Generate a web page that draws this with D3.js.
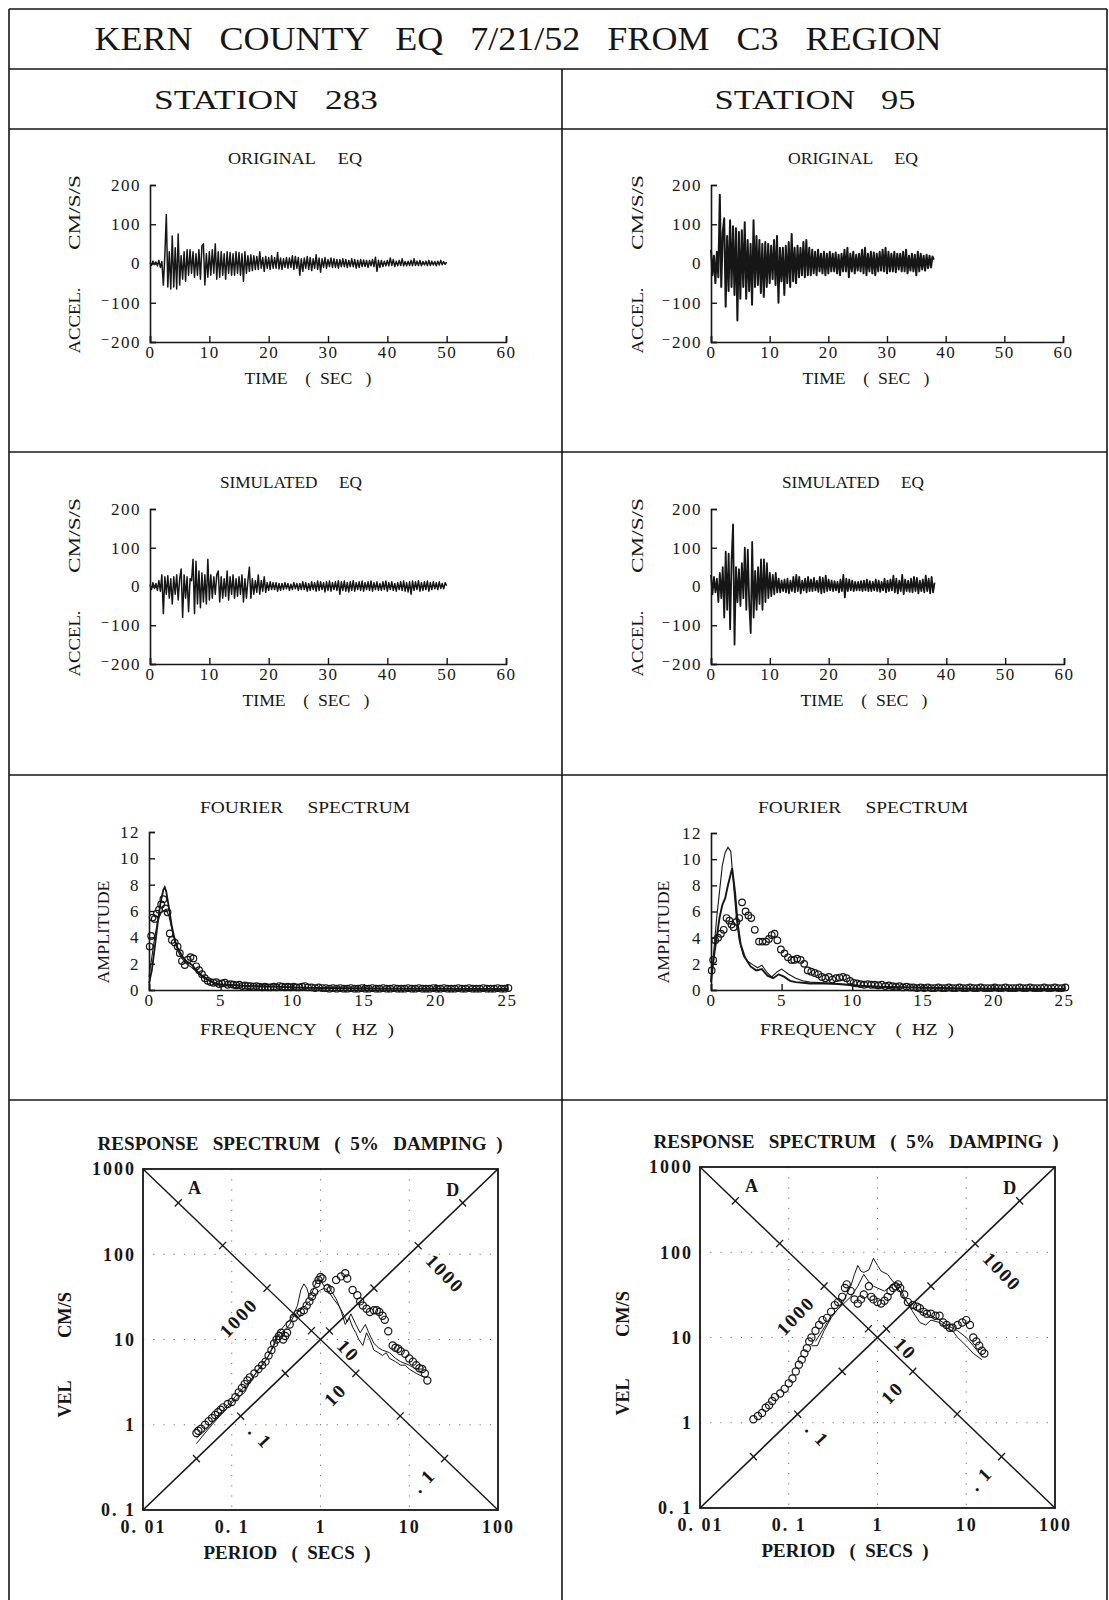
<!DOCTYPE html>
<html><head><meta charset="utf-8">
<script src="https://cdn.jsdelivr.net/npm/d3@7"></script>
<style>
body{margin:0;background:#fff}
svg text{font-family:"Liberation Serif","DejaVu Serif",serif;fill:#161616;white-space:pre}
</style>
</head><body>
<svg id="c" width="1109" height="1600"></svg>
<script>
// ---------------- DATA ----------------
const mainTitle = "KERN   COUNTY   EQ   7/21/52   FROM   C3   REGION";
const stationNames = ["STATION   283", "STATION   95"];
const timeTicks = [0,10,20,30,40,50,60];
const accelTicks = [-200,-100,0,100,200];
const freqTicks = [0,5,10,15,20,25];
const ampTicks = [0,2,4,6,8,10,12];
const periodTicks = [0.01,0.1,1,10,100];
const periodTickLabels = ["0. 01","0. 1","1","10","100"];
const velTicks = [0.1,1,10,100,1000];
const velTickLabels = ["0. 1","1","10","100","1000"];
const dt = 0.25; // sample step of the digitised records (s)

// Station 283 original accelerogram (cm/s/s), every 0.25 s from 0 to 50 s
const st283Orig = [2,-5,6,-3, 4,-6,8,-10, 5,-55,20,125, -60,30,-65,70, -60,40,-65,75,
 -55,20,-40,30, -45,35,-30,35, -25,30,-35,25, -30,35,-40,45, 50,-55,25,-35,
 30,-30,35,-25, 50,-40,30,-35, 30,-30,25,-40, 30,-25,28,-30, 25,-30,30,-25,
 28,-30,25,-45, 30,-25,20,-20, 22,-18,20,-15, 18,-15,30,-12, 15,-20,18,-12,
 15,-15,20,-12, 15,-12,28,-14, 14,-15,12,-10, 15,-12,14,-10, 20,-15,18,-12,
 15,-30,12,-20, 14,-12,18,-15, 15,-18,12,-12, 22,-15,14,-22, 12,-10,15,-12,
 10,-8,14,-10, 12,-10,10,-12, 10,-8,12,-8, 10,-10,8,-8, 12,-8,10,-12,
 8,-10,10,-8, 9,-8,8,-10, 8,-6,10,-8, 16,-20,8,-10, 8,-8,6,-6,
 8,-6,14,-5, 10,-8,6,-6, 8,-5,12,-6, 5,-6,6,-5, 8,-6,12,-5,
 6,-5,8,-6, 5,-4,6,-5, 8,-5,6,-4, 5,-6,6,-4, 8,-3,5,-2, 3];
// Station 283 simulated accelerogram
const st283Sim = [5,-8,10,-5, 8,-10,15,-12, 30,-70,25,-20, 28,-30,20,-45, 25,-20,30,-35,
 20,45,-80,30, -30,25,-65,20, 15,70,-70,65, -45,40,-55,35, -40,30,-45,70,
 -35,30,-30,25, -20,30,40,-40, 25,-30,20,-25, 40,-35,25,-20, 30,-30,20,-25,
 25,-20,30,-40, 20,-30,15,50, -30,20,-20,15, -15,30,-20,15, -12,25,-15,10,
 -10,12,-8,10, -8,10,-12,8, -10,8,-8,10, -6,8,-10,6, -8,10,-6,8,
 -10,8,-8,12, -8,10,-12,8, -10,12,-8,10, -12,14,-10,12, -8,10,-14,12,
 -10,14,-12,10, -8,12,-10,15, -20,12,-10,14, -12,10,-14,12, -10,15,-12,10,
 -8,12,-10,14, -12,10,-8,12, -10,14,-12,10, -8,12,-10,8, -10,12,-8,14,
 -12,10,-8,12, -10,8,-12,10, -8,12,-10,14, -12,10,-14,12, -20,14,-10,12,
 -8,15,-12,10, -10,12,-8,14, -12,10,-8,12, -6,10,-8,12, -5,8,-6,10, 2];
// Station 95 original accelerogram, 0 to 38 s
const st95Orig = [35,-30,20,-50, 30,-35,175,-60, 80,115,-110,70, -70,110,-60,95, -80,90,-145,80,
 -90,85,-60,105, -90,60,-70,50, -105,110,-60,70, -55,60,-75,50, -85,55,-60,50,
 -50,45,-40,60, -55,70,-100,40, -45,40,-80,45, -50,55,-60,75, -45,40,-50,45,
 -35,40,-30,55, -35,60,-30,40, -30,35,-25,30, -30,35,-20,25, -25,30,-30,25,
 -25,30,-20,25, -20,28,-25,22, -30,25,-20,35, -20,40,-35,25, -20,30,-25,22,
 -18,25,-20,35, -25,40,-30,25, -20,30,-25,28, -30,25,-20,30, -18,35,-20,40,
 -25,30,-20,25, -20,30,-22,25, -15,25,-20,30, -20,35,-25,20, -18,25,-20,22,
 -30,30,-20,25, -15,20,-18,22, -12,20,-10,18, 10];
// Station 95 simulated accelerogram
const st95Sim = [30,-20,25,-15, 20,-40,35,-30, 50,-80,90,-60, 85,-110,70,160, -150,50,-40,45,
 -50,60,-30,100, -60,95,-45,-120, 115,-80,40,-60, 50,-45,70,-60, 70,-40,60,-30,
 35,-25,30,-20, 35,-15,20,-15, 15,-12,18,-15, 20,-18,15,-12, 25,-15,30,-12,
 25,-18,15,-10, 20,-15,25,-12, 18,-12,22,-10, 15,-14,25,-18, 22,-15,28,-12,
 18,-10,15,-12, 14,-10,12,-15, 18,-12,30,-28, 20,-12,18,-10, 15,-12,12,-10,
 12,-10,14,-12, 15,-10,18,-12, 14,-12,12,-10, 18,-12,15,-14, 12,-10,20,-15,
 15,-12,18,-10, 28,-15,20,-18, 15,-12,30,-20, 18,-12,15,-14, 20,-15,25,-12,
 22,-18,15,-12, 18,-15,28,-12, 20,-18,25,-15, 10];

// Fourier spectra: [frequency Hz, amplitude]
const fourier283LineA = [[0,0.5],[0.2,1.5],[0.4,3.2],[0.6,5.0],[0.8,6.6],[1.0,7.6],[1.1,7.8],[1.2,7.5],[1.4,6.2],[1.6,4.8],[1.8,3.8],[2.0,3.2],[2.3,2.6],[2.6,2.2],[3.0,1.9],[3.4,1.4],[3.8,1.0],[4.2,0.7],[4.6,0.5],[5,0.4],[6,0.35],[7,0.3],[8,0.25],[9,0.25],[10,0.2],[12,0.15],[14,0.12],[16,0.1],[18,0.1],[20,0.1],[22,0.08],[25,0.08]];
const fourier283LineB = [[0,1.0],[0.2,2.5],[0.4,4.0],[0.6,5.2],[0.8,5.8],[1.0,6.0],[1.2,6.1],[1.4,5.6],[1.6,4.6],[1.8,3.8],[2.0,3.0],[2.3,2.4],[2.6,2.0],[3.0,1.7],[3.4,1.3],[3.8,0.9],[4.2,0.7],[4.6,0.55],[5,0.45],[6,0.4],[7,0.3],[8,0.3],[9,0.25],[10,0.2],[12,0.18],[14,0.15],[16,0.12],[18,0.1],[20,0.1],[22,0.1],[25,0.1]];
const fourier283Obs = [[0.05,3.3],[0.15,4.1],[0.25,5.5],[0.4,5.4],[0.55,5.8],[0.7,6.1],[0.85,6.5],[1.0,6.9],[1.15,6.2],[1.3,5.9],[1.45,4.3],[1.6,3.8],[1.8,3.6],[2.0,3.3],[2.15,2.8],[2.3,2.2],[2.5,1.9],[2.7,2.3],[2.9,2.5],[3.1,2.4],[3.3,1.8],[3.5,1.5],[3.7,1.2],[3.9,0.9],[4.1,0.7],[4.3,0.6],[4.5,0.55],[4.7,0.6],[4.9,0.45],[5.1,0.5],[5.3,0.55],[5.5,0.4],[5.7,0.45],[5.9,0.4],[6.1,0.35],[6.3,0.4],[6.5,0.3],[6.7,0.35],[6.9,0.3],[7.1,0.3],[7.3,0.25],[7.5,0.3],[7.7,0.25],[7.9,0.2],[8.1,0.25],[8.3,0.2],[8.5,0.2],[8.7,0.25],[8.9,0.2],[9.1,0.3],[9.3,0.25],[9.5,0.2],[9.7,0.25],[9.9,0.2],[10.1,0.25],[10.3,0.2],[10.5,0.2],[10.7,0.25],[10.9,0.3],[11.1,0.2],[11.35,0.2],[11.6,0.15],[11.85,0.2],[12.1,0.15],[12.35,0.15],[12.6,0.1],[12.85,0.15],[13.1,0.1],[13.35,0.15],[13.6,0.1],[13.85,0.1],[14.1,0.15],[14.35,0.1],[14.6,0.1],[14.85,0.15],[15.1,0.1],[15.35,0.1],[15.6,0.15],[15.85,0.1],[16.1,0.1],[16.35,0.15],[16.6,0.1],[16.85,0.1],[17.1,0.15],[17.35,0.1],[17.6,0.1],[17.85,0.1],[18.1,0.15],[18.35,0.1],[18.6,0.1],[18.85,0.15],[19.1,0.1],[19.35,0.1],[19.6,0.1],[19.85,0.15],[20.1,0.1],[20.35,0.1],[20.6,0.15],[20.85,0.1],[21.1,0.1],[21.35,0.1],[21.6,0.15],[21.85,0.1],[22.1,0.1],[22.35,0.15],[22.6,0.1],[22.85,0.1],[23.1,0.1],[23.35,0.15],[23.6,0.1],[23.85,0.1],[24.1,0.1],[24.35,0.15],[24.6,0.1],[24.85,0.1],[25.1,0.15]];
const fourier95LineA = [[0,0.8],[0.2,3.0],[0.4,5.5],[0.6,7.5],[0.8,9.5],[1.0,10.5],[1.2,10.9],[1.4,10.6],[1.6,8.0],[1.8,5.5],[2.0,3.8],[2.3,2.6],[2.6,2.2],[3.0,1.9],[3.3,1.7],[3.6,1.9],[4.0,1.3],[4.3,1.0],[4.7,1.4],[5.0,1.6],[5.5,1.2],[6,0.9],[6.5,0.7],[7,0.6],[8,0.55],[9,0.5],[10,0.4],[11,0.3],[12,0.25],[14,0.2],[16,0.15],[18,0.12],[20,0.1],[22,0.1],[25,0.08]];
const fourier95LineB = [[0,0.6],[0.2,2.5],[0.4,4.0],[0.6,5.5],[0.8,6.5],[1.0,7.0],[1.2,8.0],[1.5,9.3],[1.7,7.5],[1.9,5.0],[2.1,3.5],[2.4,2.5],[2.8,1.8],[3.2,1.5],[3.6,1.6],[4.0,1.1],[4.4,0.9],[4.8,1.2],[5.2,1.0],[5.6,0.7],[6,0.6],[6.5,0.55],[7,0.5],[8,0.5],[9,0.45],[10,0.35],[11,0.3],[12,0.25],[14,0.2],[16,0.15],[18,0.12],[20,0.1],[22,0.1],[25,0.08]];
const fourier95Obs = [[0.05,1.5],[0.15,2.3],[0.3,3.8],[0.5,4.0],[0.7,4.3],[0.9,4.6],[1.1,5.5],[1.3,5.3],[1.45,5.0],[1.6,4.8],[1.8,5.2],[2.0,5.5],[2.2,6.7],[2.45,6.0],[2.65,5.7],[2.85,5.5],[3.1,4.6],[3.4,3.7],[3.65,3.7],[3.9,3.7],[4.1,3.9],[4.3,4.2],[4.5,4.3],[4.7,3.8],[4.95,3.1],[5.2,2.8],[5.45,2.5],[5.7,2.3],[5.9,2.3],[6.1,2.4],[6.35,2.3],[6.6,2.0],[6.85,1.5],[7.1,1.4],[7.35,1.3],[7.6,1.2],[7.85,1.0],[8.1,0.9],[8.35,1.0],[8.6,0.8],[8.85,0.9],[9.1,0.95],[9.35,1.0],[9.6,0.9],[9.85,0.7],[10.1,0.55],[10.35,0.5],[10.6,0.45],[10.85,0.4],[11.1,0.45],[11.35,0.4],[11.6,0.4],[11.85,0.35],[12.1,0.4],[12.35,0.3],[12.6,0.35],[12.85,0.3],[13.1,0.25],[13.35,0.3],[13.6,0.2],[13.85,0.25],[14.1,0.2],[14.35,0.2],[14.6,0.15],[14.85,0.2],[15.1,0.15],[15.35,0.2],[15.6,0.15],[15.85,0.15],[16.1,0.2],[16.35,0.15],[16.6,0.15],[16.85,0.2],[17.1,0.15],[17.35,0.15],[17.6,0.2],[17.85,0.15],[18.1,0.15],[18.35,0.2],[18.6,0.15],[18.85,0.15],[19.1,0.2],[19.35,0.15],[19.6,0.15],[19.85,0.15],[20.1,0.2],[20.35,0.15],[20.6,0.15],[20.85,0.2],[21.1,0.15],[21.35,0.15],[21.6,0.15],[21.85,0.2],[22.1,0.15],[22.35,0.15],[22.6,0.2],[22.85,0.15],[23.1,0.15],[23.35,0.15],[23.6,0.2],[23.85,0.15],[24.1,0.15],[24.35,0.2],[24.6,0.15],[24.85,0.15],[25.1,0.2]];

// Response spectra: [period s, velocity cm/s]
const resp283Obs = [[0.04,0.8],[0.042,0.85],[0.045,0.9],[0.05,1.0],[0.055,1.1],[0.06,1.2],[0.065,1.3],[0.07,1.4],[0.075,1.5],[0.08,1.6],[0.09,1.75],[0.1,1.85],[0.11,2.1],[0.12,2.4],[0.13,2.7],[0.14,3.0],[0.15,3.3],[0.16,3.6],[0.18,4.0],[0.2,4.5],[0.22,5.0],[0.24,5.5],[0.26,6.5],[0.28,7.5],[0.3,9],[0.32,10],[0.34,11],[0.36,12],[0.38,10],[0.4,11],[0.42,12],[0.45,15],[0.5,18],[0.55,20],[0.6,21],[0.65,22],[0.7,25],[0.75,28],[0.8,32],[0.85,36],[0.9,45],[0.95,50],[1.0,54],[1.05,52],[1.2,40],[1.3,38],[1.5,50],[1.7,55],[1.9,60],[2.0,52],[2.3,38],[2.6,33],[2.8,28],[3.0,25],[3.3,23],[3.6,21],[4.0,22],[4.3,22],[4.6,21],[5.0,19],[5.3,17],[5.8,12.5],[6.5,8.5],[7,8],[7.5,7.8],[8,7.3],[9,6.8],[10,6],[11,5.5],[12,5],[13,4.6],[14,4.5],[15,4],[16,3.3]];
const resp283Orig = [[0.04,0.6],[0.05,0.8],[0.06,1.0],[0.07,1.2],[0.08,1.4],[0.1,1.8],[0.12,2.1],[0.14,2.4],[0.16,3.2],[0.18,3.8],[0.2,4.4],[0.23,5.2],[0.26,6.5],[0.3,9],[0.33,12],[0.36,13],[0.4,15],[0.45,17],[0.5,20],[0.55,25],[0.6,38],[0.65,45],[0.7,40],[0.75,32],[0.8,35],[0.9,48],[1.0,50],[1.1,42],[1.2,45],[1.3,38],[1.5,30],[1.7,22],[1.9,15],[2.1,18],[2.3,14],[2.5,12],[2.7,10],[3.0,8.5],[3.3,12],[3.6,10],[4.0,7.5],[4.5,7],[5,6.5],[5.5,7],[6,6],[7,5.5],[8,5],[9,5],[10,4.5],[12,4],[14,3.7],[15,3.6]];
const resp283Sim = [[0.04,0.7],[0.05,0.85],[0.06,1.05],[0.08,1.5],[0.1,1.9],[0.12,2.4],[0.15,3.0],[0.18,3.8],[0.2,4.5],[0.25,6],[0.3,8.5],[0.33,11],[0.36,12],[0.4,13],[0.45,15],[0.5,19],[0.55,21],[0.6,22],[0.7,26],[0.8,30],[0.9,35],[1.0,38],[1.1,40],[1.2,38],[1.4,30],[1.6,25],[1.8,20],[2.0,16],[2.2,20],[2.5,15],[2.8,12],[3.2,15],[3.5,12],[4,9],[4.5,8],[5,7.5],[6,7],[7,6],[8,5.5],[10,5],[12,4.5],[14,4.5],[15,4.8]];
const resp95Obs = [[0.04,1.1],[0.045,1.2],[0.05,1.3],[0.055,1.5],[0.06,1.6],[0.065,1.8],[0.07,2.0],[0.08,2.2],[0.09,2.5],[0.1,2.9],[0.11,3.3],[0.12,4.0],[0.13,4.8],[0.14,5.5],[0.15,6.5],[0.16,7.5],[0.17,9],[0.18,10],[0.2,12],[0.22,14],[0.24,16],[0.27,17],[0.3,20],[0.33,24],[0.36,26],[0.4,30],[0.43,38],[0.45,42],[0.5,35],[0.55,28],[0.6,25],[0.65,28],[0.7,32],[0.8,40],[0.85,30],[0.9,28],[1.0,26],[1.1,25],[1.2,27],[1.3,30],[1.4,35],[1.5,38],[1.6,40],[1.7,42],[1.8,38],[2.0,32],[2.2,26],[2.5,24],[2.8,23],[3,22],[3.3,20],[3.6,19],[4,19],[4.5,18],[5,18],[5.5,15],[6,14],[6.5,13],[7,13],[8,14],[9,15],[10,16],[11,14],[12,10],[13,9],[14,8],[15,7],[16,6.5]];
const resp95Orig = [[0.18,8],[0.21,8],[0.25,12],[0.3,17],[0.35,21],[0.4,25],[0.45,32],[0.5,40],[0.55,55],[0.6,70],[0.65,60],[0.7,58],[0.8,62],[0.9,85],[1.0,70],[1.1,60],[1.3,55],[1.5,45],[1.8,40],[2.0,30],[2.2,25],[2.5,20],[3.0,15],[3.5,14],[4,16],[5,15],[6,13],[7,12],[8,10],[10,8],[12,6.5],[15,5.5]];
const resp95Sim = [[0.2,9],[0.25,13],[0.3,18],[0.4,24],[0.5,30],[0.6,40],[0.7,55],[0.8,45],[0.9,40],[1.0,38],[1.2,35],[1.5,42],[1.8,35],[2,28],[2.5,22],[3,20],[4,18],[5,16],[6,14],[8,12],[10,10],[12,8],[15,6]];

// Tripartite axes: tick periods along the acceleration (A) and displacement (D) diagonals
const accAxisTicks = [0.025,0.079,0.25,0.79,2.5,7.9,25];
const dispAxisTicks = [0.04,0.126,0.4,1.26,4,12.6,40];
const accAxisLabels = [[0.25,"1000"],[2.5,"10"],[25,". 1"]];
const dispAxisLabels = [[0.126,". 1"],[1.26,"10"],[12.6,"1000"]];
const gridPeriods = [0.1,1,10];
const gridVels = [1,10,100];

// ---------------- DRAWING ----------------
const INK = "#161616";
const svg = d3.select("#c");

// frame
const frame = svg.append("g").attr("stroke", INK).attr("stroke-width", 1.6).attr("fill","none");
[[9,1107,9],[9,1107,69],[9,1107,129],[9,1107,452],[9,1107,775],[9,1107,1100]].forEach(([a,b,y])=>
  frame.append("line").attr("x1",a).attr("x2",b).attr("y1",y).attr("y2",y));
[[9,9,1600],[1107,9,1600],[562,69,1600]].forEach(([x,a,b])=>
  frame.append("line").attr("x1",x).attr("x2",x).attr("y1",a).attr("y2",b));

function txt(x,y,s,size,opts={}) {
  const t = svg.append("text").attr("x",x).attr("y",y).text(s)
    .attr("font-size",size).attr("text-anchor","middle").attr("dominant-baseline","central");
  if (opts.len) t.attr("textLength",opts.len).attr("lengthAdjust","spacingAndGlyphs");
  if (opts.rot) t.attr("transform",`rotate(${opts.rot},${x},${y})`);
  if (opts.bold) t.attr("font-weight","bold");
  return t;
}

txt(518,38,mainTitle,34,{len:847});
txt(266,99,stationNames[0],28,{len:224});
txt(815,99,stationNames[1],28,{len:201});

function styleAxis(g,size,bold,ls) {
  g.attr("font-family",null).attr("font-size",size);
  if (bold) g.attr("font-weight","bold");
  g.select(".domain").attr("stroke",INK).attr("stroke-width",1.6);
  g.selectAll(".tick line").attr("stroke",INK).attr("stroke-width",1.4);
  g.selectAll(".tick text").attr("fill",INK).attr("letter-spacing",ls||0);
}
const signed = d => d < 0 ? "\u207B" + Math.abs(d) : String(d);

function timePlot(c, values) {
  const x = d3.scaleLinear().domain([0,60]).range([c.x0,c.x1]);
  const y = d3.scaleLinear().domain([-200,200]).range([c.yb,c.yt]);
  const gx = svg.append("g").attr("transform",`translate(0,${c.yb})`)
    .call(d3.axisBottom(x).tickValues(timeTicks).tickSize(-6).tickPadding(4).tickFormat(d=>d));
  styleAxis(gx,17,false,1.5);
  const gy = svg.append("g").attr("transform",`translate(${c.x0},0)`)
    .call(d3.axisLeft(y).tickValues(accelTicks).tickSize(-6).tickPadding(9).tickFormat(signed));
  styleAxis(gy,17,false,1.5);
  svg.append("path").datum(values)
    .attr("d", d3.line().x((d,i)=>x(i*dt)).y(d=>y(d)))
    .attr("fill","none").attr("stroke",INK).attr("stroke-width",c.w).attr("stroke-linejoin","round");
  txt(c.tx, c.yt-27, c.title, 16, {len:c.tlen});
  txt(c.lx, c.yb+36, "TIME    (  SEC   )", 16, {len:127});
  const yc = (c.yt+c.yb)/2;
  txt(c.yx, yc+57, "ACCEL.", 16, {len:66, rot:-90});
  txt(c.yx, yc-51, "CM/S/S", 16, {len:75, rot:-90});
}

timePlot({x0:150,x1:506,yt:185,yb:342,title:"ORIGINAL     EQ",tlen:134,tx:295,lx:308,yx:74,w:1.5}, st283Orig);
timePlot({x0:711,x1:1063,yt:185,yb:342,title:"ORIGINAL     EQ",tlen:130,tx:853,lx:866,yx:637,w:2.0}, st95Orig);
timePlot({x0:150,x1:506,yt:509,yb:664,title:"SIMULATED     EQ",tlen:142,tx:291,lx:306,yx:74,w:1.5}, st283Sim);
timePlot({x0:711,x1:1064,yt:509,yb:664,title:"SIMULATED     EQ",tlen:142,tx:853,lx:864,yx:637,w:1.8}, st95Sim);

function fourierPlot(c, lineA, lineB, obs) {
  const x = d3.scaleLinear().domain([0,25]).range([c.x0,c.x1]);
  const y = d3.scaleLinear().domain([0,12]).range([c.yb,c.yt]);
  const gx = svg.append("g").attr("transform",`translate(0,${c.yb})`)
    .call(d3.axisBottom(x).tickValues(freqTicks).tickSize(-6).tickPadding(4).tickFormat(d=>d));
  styleAxis(gx,17,false,1.5);
  const gy = svg.append("g").attr("transform",`translate(${c.x0},0)`)
    .call(d3.axisLeft(y).tickValues(ampTicks).tickSize(-6).tickPadding(9).tickFormat(d=>d));
  styleAxis(gy,17,false,1.5);
  const ln = d3.line().x(d=>x(d[0])).y(d=>y(d[1]));
  svg.append("path").datum(lineA).attr("d",ln).attr("fill","none").attr("stroke",INK).attr("stroke-width",c.wA);
  svg.append("path").datum(lineB).attr("d",ln).attr("fill","none").attr("stroke",INK).attr("stroke-width",c.wB);
  svg.append("g").selectAll("circle").data(obs).join("circle")
    .attr("cx",d=>x(d[0])).attr("cy",d=>y(d[1])).attr("r",3.3)
    .attr("fill","none").attr("stroke",INK).attr("stroke-width",1.2);
  txt(c.tx, 807, "FOURIER     SPECTRUM", 17, {len:210});
  txt(c.lx, 1029, "FREQUENCY    (  HZ  )", 17, {len:194});
  txt(c.yx, 932, "AMPLITUDE", 17, {len:103, rot:-90});
}
fourierPlot({x0:149,x1:507,yt:832,yb:990,tx:305,lx:297,yx:103,wA:1.8,wB:1.1}, fourier283LineA, fourier283LineB, fourier283Obs);
fourierPlot({x0:711,x1:1064,yt:833,yb:990,tx:863,lx:857,yx:663,wA:1.1,wB:1.9}, fourier95LineA, fourier95LineB, fourier95Obs);

function respPlot(c, obs, l1, l2) {
  const x = d3.scaleLog().domain([0.01,100]).range([c.x0,c.x1]);
  const y = d3.scaleLog().domain([0.1,1000]).range([c.yb,c.yt]);
  const grid = svg.append("g").attr("stroke","#777").attr("stroke-width",1).attr("stroke-dasharray","1.2 9");
  gridPeriods.forEach(p=>grid.append("line").attr("x1",x(p)).attr("x2",x(p)).attr("y1",c.yt).attr("y2",c.yb));
  gridVels.forEach(v=>grid.append("line").attr("x1",c.x0).attr("x2",c.x1).attr("y1",y(v)).attr("y2",y(v)));
  svg.append("rect").attr("x",c.x0).attr("y",c.yt).attr("width",c.x1-c.x0).attr("height",c.yb-c.yt)
    .attr("fill","none").attr("stroke",INK).attr("stroke-width",1.8);
  const gx = svg.append("g").attr("transform",`translate(0,${c.yb})`)
    .call(d3.axisBottom(x).tickValues(periodTicks).tickSize(0).tickPadding(10).tickFormat((d,i)=>periodTickLabels[i]));
  styleAxis(gx,18,true,2); gx.select(".domain").remove();
  const gy = svg.append("g").attr("transform",`translate(${c.x0},0)`)
    .call(d3.axisLeft(y).tickValues(velTicks).tickSize(0).tickPadding(7).tickFormat((d,i)=>velTickLabels[i]));
  styleAxis(gy,18,true,2); gy.select(".domain").remove();

  // diagonals
  const ln = d3.line().x(d=>x(d[0])).y(d=>y(d[1]));
  const accLine = [[0.01,1000],[100,0.1]];
  const dispLine = [[0.01,0.1],[100,1000]];
  svg.append("path").datum(accLine).attr("d",ln).attr("stroke",INK).attr("stroke-width",1.4).attr("fill","none");
  svg.append("path").datum(dispLine).attr("d",ln).attr("stroke",INK).attr("stroke-width",1.6).attr("fill","none");
  function unit(a,b){const dx=x(b[0])-x(a[0]), dy=y(b[1])-y(a[1]); const L=Math.hypot(dx,dy); return [dx/L,dy/L];}
  const ua = unit(accLine[0],accLine[1]), ud = unit(dispLine[0],dispLine[1]);
  const na = [-ua[1],ua[0]];  // points down-left
  const nd = [-ud[1],ud[0]];  // points down-right
  const tk = svg.append("g").attr("stroke",INK).attr("stroke-width",1.3);
  accAxisTicks.forEach(T=>{const px=x(T),py=y(10/T);
    tk.append("line").attr("x1",px-5*na[0]).attr("y1",py-5*na[1]).attr("x2",px+5*na[0]).attr("y2",py+5*na[1]);});
  dispAxisTicks.forEach(T=>{const px=x(T),py=y(10*T);
    tk.append("line").attr("x1",px-5*nd[0]).attr("y1",py-5*nd[1]).attr("x2",px+5*nd[0]).attr("y2",py+5*nd[1]);});
  const angA = Math.atan2(-na[1],-na[0])*180/Math.PI;
  const angD = Math.atan2(nd[1],nd[0])*180/Math.PI;
  accAxisLabels.forEach(([T,s])=>{const px=x(T)+18*na[0], py=y(10/T)+18*na[1];
    svg.append("text").attr("x",px).attr("y",py).text(s).attr("font-size",19).attr("font-weight","bold")
      .attr("letter-spacing",2).attr("text-anchor","end").attr("dominant-baseline","central")
      .attr("transform",`rotate(${angA},${px},${py})`);});
  dispAxisLabels.forEach(([T,s])=>{const px=x(T)+16*nd[0], py=y(10*T)+16*nd[1];
    svg.append("text").attr("x",px).attr("y",py).text(s).attr("font-size",19).attr("font-weight","bold")
      .attr("letter-spacing",2).attr("text-anchor","start").attr("dominant-baseline","central")
      .attr("transform",`rotate(${angD},${px},${py})`);});
  txt(x(0.038), y(600), "A", 18, {bold:true});
  txt(x(31), y(570), "D", 18, {bold:true});

  // data
  svg.append("path").datum(l1).attr("d",ln).attr("fill","none").attr("stroke",INK).attr("stroke-width",1);
  svg.append("path").datum(l2).attr("d",ln).attr("fill","none").attr("stroke",INK).attr("stroke-width",1);
  svg.append("g").selectAll("circle").data(obs).join("circle")
    .attr("cx",d=>x(d[0])).attr("cy",d=>y(d[1])).attr("r",3.6)
    .attr("fill","none").attr("stroke",INK).attr("stroke-width",1.2);

  txt(c.tx, c.yt-25, "RESPONSE   SPECTRUM   (  5%   DAMPING  )", 18, {len:405, bold:true});
  txt(c.lx, c.yb+43, "PERIOD   (  SECS  )", 18, {len:167, bold:true});
  txt(c.yx, c.yl1, "VEL", 18, {len:37, rot:-90, bold:true});
  txt(c.yx, c.yl2, "CM/S", 18, {len:46, rot:-90, bold:true});
}
respPlot({x0:143,x1:498,yt:1169,yb:1510,tx:300,lx:287,yx:65,yl1:1399,yl2:1315}, resp283Obs, resp283Orig, resp283Sim);
respPlot({x0:700,x1:1055,yt:1167,yb:1508,tx:856,lx:845,yx:623,yl1:1397,yl2:1314}, resp95Obs, resp95Orig, resp95Sim);
</script>
</body></html>
